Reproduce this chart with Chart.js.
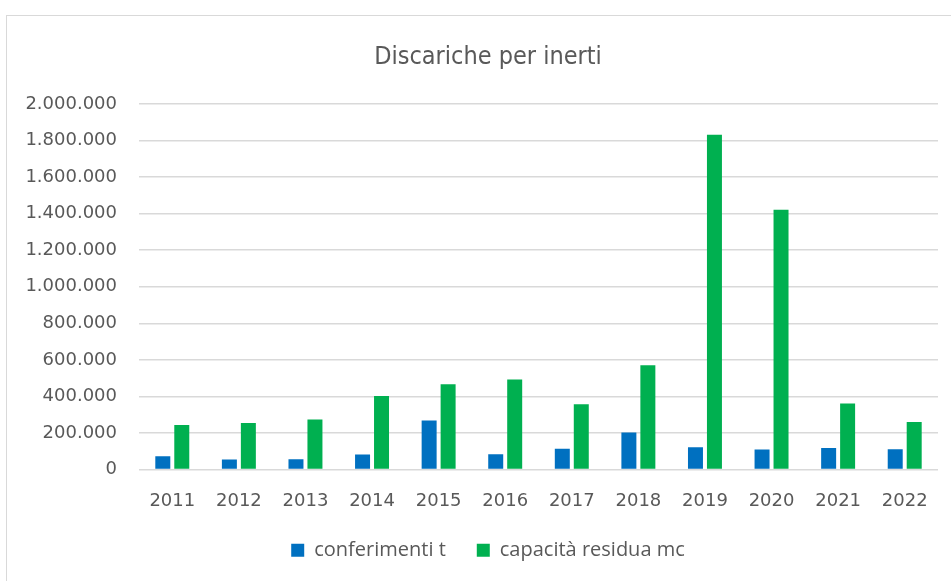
<!DOCTYPE html>
<html>
<head>
<meta charset="utf-8">
<script src="https://cdn.jsdelivr.net/npm/chart.js@4"></script>
<style>
  html, body { margin: 0; padding: 0; background: #fff; overflow: hidden; }
  #wrap { position: absolute; left: 0; top: 0; width: 976px; height: 581px; }
  #frame { position: absolute; left: 6px; top: 15px; width: 1000px; height: 700px; border: 1.5px solid #d9d9d9; box-sizing: border-box; pointer-events: none; }
</style>
</head>
<body>
<div id="frame"></div>
<div id="wrap"><canvas id="c" width="976" height="581"></canvas></div>
<script>
const categories = ["2011","2012","2013","2014","2015","2016","2017","2018","2019","2020","2021","2022"];
const conferimenti = [73000, 55000, 56000, 82000, 268000, 84000, 113000, 202000, 122000, 109000, 117000, 111000];
const capacitaResidua = [244000, 255000, 273000, 402000, 466000, 493000, 357000, 570000, 1832000, 1421000, 361000, 260000];
const seriesNames = ["conferimenti t", "capacità residua mc"];
const chartTitle = "Discariche per inerti";
const yMax = 2000000;
const yStep = 200000;

function fmt(v) {
  return String(Math.round(v)).replace(/\B(?=(\d{3})+(?!\d))/g, ".");
}

new Chart(document.getElementById("c"), {
  type: "bar",
  data: {
    labels: categories,
    datasets: [
      { label: seriesNames[0], data: conferimenti, backgroundColor: "#0070C0", categoryPercentage: 0.57, barPercentage: 0.79, yAxisID: "y" },
      { label: seriesNames[1], data: capacitaResidua, backgroundColor: "#00B050", categoryPercentage: 0.57, barPercentage: 0.79, yAxisID: "y" }
    ]
  },
  options: {
    responsive: false,
    animation: false,
    layout: { padding: { left: 0, right: 0, top: 0, bottom: 10.75 } },
    plugins: {
      title: {
        display: true,
        text: chartTitle,
        color: "#595959",
        font: { family: "'Liberation Sans Narrow', 'DejaVu Sans Condensed', sans-serif", size: 25, weight: "normal", lineHeight: 1.2 },
        padding: { top: 42, bottom: 32 }
      },
      legend: {
        position: "bottom",
        labels: {
          boxWidth: 13,
          boxHeight: 13,
          padding: 31,
          color: "#595959",
          font: { family: "'Open Sans', sans-serif", size: 20 }
        }
      },
      tooltip: { enabled: false }
    },
    scales: {
      x: {
        afterFit: (s) => { s.height = 39.75; },
        grid: { display: false, drawTicks: false },
        border: { display: false },
        ticks: { color: "#595959", font: { family: "'DejaVu Sans', sans-serif", size: 18, lineHeight: 1 }, padding: 22.5, maxRotation: 0 }
      },
      y: {
        min: 0,
        max: yMax,
        afterFit: (s) => { s.width = 139; },
        grid: { color: "#d9d9d9", lineWidth: 1.5, drawTicks: false },
        border: { display: false },
        ticks: { stepSize: yStep, color: "#595959", padding: 22, font: { family: "'DejaVu Sans', sans-serif", size: 18 }, callback: (v) => fmt(v) }
      },
      yRight: {
        position: "right",
        afterFit: (s) => { s.width = 38; },
        grid: { display: false, drawTicks: false },
        border: { display: false },
        ticks: { display: false }
      }
    }
  }
});
</script>
</body>
</html>
